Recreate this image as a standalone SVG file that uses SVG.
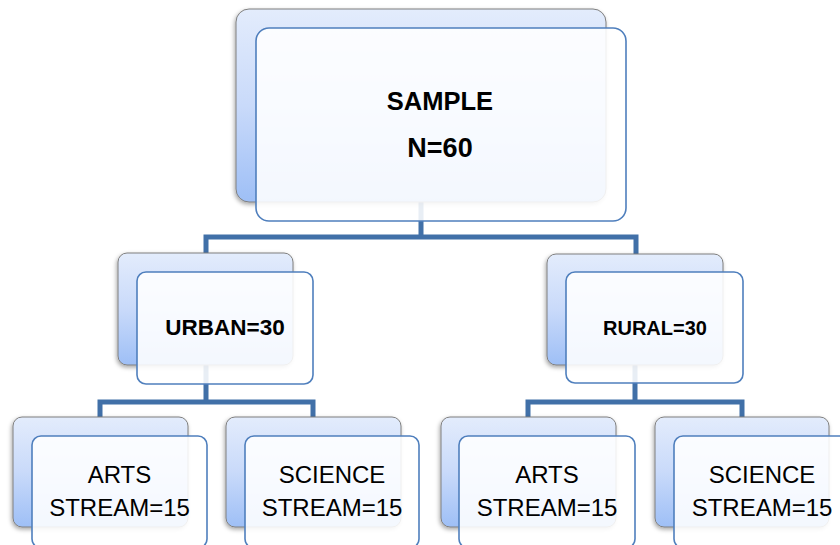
<svg xmlns="http://www.w3.org/2000/svg" width="840" height="545" viewBox="0 0 840 545">
<style>
.back{fill:url(#bg);stroke:#7f7f7f;stroke-width:1;filter:url(#sh)}
.front{fill:#ffffff;fill-opacity:0.88;stroke:#4f7fbd;stroke-width:1.6}
.conn{fill:none;stroke:#4170a8;stroke-width:5;stroke-linejoin:miter}
.b{font-family:"Liberation Sans",Arial,sans-serif;font-weight:bold;fill:#000;text-anchor:middle}
.r{font-family:"Liberation Sans",Arial,sans-serif;font-size:24px;fill:#000;text-anchor:middle}
</style>
<defs>
<linearGradient id="bg" x1="0" y1="0" x2="0" y2="1">
<stop offset="0" stop-color="#e3ecfc"/>
<stop offset="0.5" stop-color="#c9dafa"/>
<stop offset="1" stop-color="#9ebff6"/>
</linearGradient>
<filter id="sh" x="-10%" y="-10%" width="120%" height="125%">
<feDropShadow dx="-1" dy="2" stdDeviation="2" flood-color="#000" flood-opacity="0.35"/>
</filter>
</defs>
<g id="connectors">
<path class="conn" d="M421 202 V237 M206 253 V237 H636 V254"/>
<path class="conn" d="M206 365 V402 M100 417 V402 H313 V417"/>
<path class="conn" d="M635 365 V402 M528 417 V402 H742 V417"/>
</g>
<g id="node-sample">
<rect class="back" x="236" y="9" width="370" height="193" rx="13"/>
<rect class="front" x="256" y="28" width="370" height="193" rx="13"/>
<text class="b" x="440" y="110" font-size="25.5px">SAMPLE</text>
<text class="b" x="440" y="157" font-size="27px">N=60</text>
</g>
<g id="node-urban">
<rect class="back" x="118" y="253" width="175" height="112" rx="9"/>
<rect class="front" x="137" y="272" width="176" height="112" rx="9"/>
<text class="b" x="225" y="335" font-size="22.5px">URBAN=30</text>
</g>
<g id="node-rural">
<rect class="back" x="547" y="254" width="176" height="111" rx="9"/>
<rect class="front" x="566" y="272" width="177" height="111" rx="9"/>
<text class="b" x="655" y="335" font-size="20px">RURAL=30</text>
</g>
<g id="node-arts-urban">
<rect class="back" x="13" y="417" width="175" height="110" rx="9"/>
<rect class="front" x="32" y="436" width="175" height="112" rx="9"/>
<text class="r" x="119.5" y="483">ARTS</text>
<text class="r" x="119.5" y="516">STREAM=15</text>
</g>
<g id="node-science-urban">
<rect class="back" x="226" y="417" width="175" height="110" rx="9"/>
<rect class="front" x="245" y="436" width="174" height="112" rx="9"/>
<text class="r" x="332" y="483">SCIENCE</text>
<text class="r" x="332" y="516">STREAM=15</text>
</g>
<g id="node-arts-rural">
<rect class="back" x="441" y="417" width="175" height="110" rx="9"/>
<rect class="front" x="459" y="436" width="176" height="112" rx="9"/>
<text class="r" x="547" y="483">ARTS</text>
<text class="r" x="547" y="516">STREAM=15</text>
</g>
<g id="node-science-rural">
<rect class="back" x="655" y="417" width="174" height="110" rx="9"/>
<rect class="front" x="674" y="436" width="176" height="112" rx="9"/>
<text class="r" x="762" y="483">SCIENCE</text>
<text class="r" x="762" y="516">STREAM=15</text>
</g>
</svg>
